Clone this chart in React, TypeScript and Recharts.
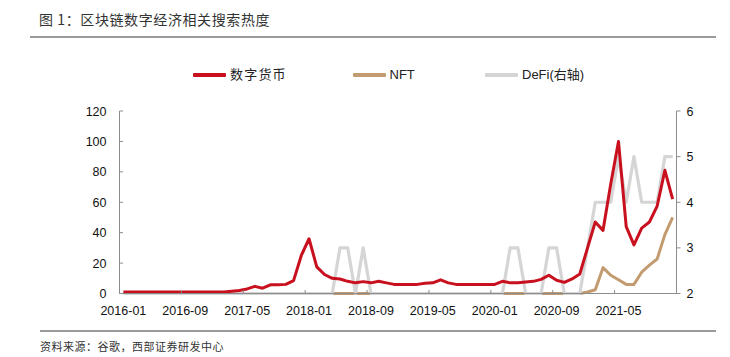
import React from "react";
import { LineChart, Line, XAxis, YAxis } from "recharts";

const months = [
  "2016-01","2016-02","2016-03","2016-04","2016-05","2016-06","2016-07","2016-08","2016-09","2016-10","2016-11","2016-12",
  "2017-01","2017-02","2017-03","2017-04","2017-05","2017-06","2017-07","2017-08","2017-09","2017-10","2017-11","2017-12",
  "2018-01","2018-02","2018-03","2018-04","2018-05","2018-06","2018-07","2018-08","2018-09","2018-10","2018-11","2018-12",
  "2019-01","2019-02","2019-03","2019-04","2019-05","2019-06","2019-07","2019-08","2019-09","2019-10","2019-11","2019-12",
  "2020-01","2020-02","2020-03","2020-04","2020-05","2020-06","2020-07","2020-08","2020-09","2020-10","2020-11","2020-12",
  "2021-01","2021-02","2021-03","2021-04","2021-05","2021-06","2021-07","2021-08","2021-09","2021-10","2021-11","2021-12",
];

const crypto = [
  1, 1, 1, 1, 1, 1, 1, 1, 1, 1, 1, 1,
  1, 1, 1.5, 2, 3, 4.7, 3.5, 5.7, 5.8, 6, 8.5, 25,
  36, 17.5, 12.5, 10, 9.5, 8, 7, 7.8, 7, 8, 7, 6,
  6, 6, 6, 6.8, 7, 9, 7, 6, 6, 6, 6, 6,
  6, 8, 7, 7, 7.5, 8, 9.3, 12, 8.7, 7.3, 9.6, 12.8,
  30, 47, 41.5, 72, 100, 44, 32, 43, 47, 57.5, 81, 62,
];

const nft = [
  null, null, null, null, null, null, null, null, null, null, null, null,
  null, null, null, null, null, null, null, null, null, null, null, null,
  null, null, null, 0, 0, 0, 0, 0, 0, 0, 0, 0,
  0, 0, 0, 0, 0, 0, 0, 0, 0, 0, 0, 0,
  0, 0, 0, 0, 0, 0, 0, 0, 0, 0, 0, 0,
  1, 2.5, 17, 12, 9, 6, 6, 14, 18.7, 22.7, 38.7, 50,
];

const defi = [
  2, 2, 2, 2, 2, 2, 2, 2, 2, 2, 2, 2,
  2, 2, 2, 2, 2, 2, 2, 2, 2, 2, 2, 2,
  2, 2, 2, 2, 3, 3, 2, 3, 2, 2, 2, 2,
  2, 2, 2, 2, 2, 2, 2, 2, 2, 2, 2, 2,
  2, 2, 3, 3, 2, 2, 2, 3, 3, 2, 2, 2,
  3, 4, 4, 4, 5, 4, 5, 4, 4, 4, 5, 5,
];

const leftTicks = [0, 20, 40, 60, 80, 100, 120];
const rightTicks = [2, 3, 4, 5, 6];

const title = "图 1：区块链数字经济相关搜索热度";
const source = "资料来源：谷歌，西部证券研发中心";
const names = { crypto: "数字货币", nft: "NFT", defi: "DeFi(右轴)" };

const RED = "#C8101E";
const TAN = "#C29C70";
const GRAY = "#D5D5D5";
const AXIS = "#8c8c8c";
const FONT = "'Liberation Sans', Arial, 'Noto Sans CJK SC', sans-serif";
const HALF = 3.87;

const data = months.map((m, i) => ({ m, crypto: crypto[i], nft: nft[i], defi: defi[i] }));

const XTick = (props: any) => {
  const { x, y, payload } = props;
  return (
    <g>
      <line x1={x - HALF} x2={x - HALF} y1={y} y2={y - 3.5} stroke={AXIS} strokeWidth={1} />
      <text x={x} y={y + 21} textAnchor="middle" fontSize={12.5} fontFamily={FONT} fill="#111">
        {payload.value}
      </text>
    </g>
  );
};

const LTick = (props: any) => {
  const { x, y, payload } = props;
  return (
    <g>
      <line x1={x + 13} x2={x + 16.5} y1={y} y2={y} stroke={AXIS} strokeWidth={1} />
      <text x={x} y={y} dy="0.36em" textAnchor="end" fontSize={12.5} fontFamily={FONT} fill="#111">
        {payload.value}
      </text>
    </g>
  );
};

const RTick = (props: any) => {
  const { x, y, payload } = props;
  return (
    <text x={x} y={y} dy="0.36em" textAnchor="start" fontSize={12.5} fontFamily={FONT} fill="#111">
      {payload.value}
    </text>
  );
};

const legendItems = [
  { color: RED, label: names.crypto, left: 193, spacing: 1.2 },
  { color: TAN, label: names.nft, left: 352.5, spacing: 0 },
  { color: GRAY, label: names.defi, left: 485, spacing: 0 },
];

export default function App() {
  return (
    <div style={{ position: "absolute", left: 0, top: 0, width: 730, height: 357, background: "#fff" }}>
      <div
        style={{
          position: "absolute", left: 39, top: 10, fontSize: 14, lineHeight: "18px",
          fontFamily: "'Noto Sans CJK SC', sans-serif", color: "#333", letterSpacing: 0.6, whiteSpace: "nowrap",
        }}
      >
        {title}
      </div>
      <div style={{ position: "absolute", left: 30, top: 36, width: 686, height: 2, background: "#9a9a9a" }} />

      {legendItems.map((it) => (
        <div key={it.label} style={{ position: "absolute", left: it.left, top: 66, height: 18, display: "flex", alignItems: "center" }}>
          <div style={{ width: 33, height: 3.5, background: it.color, borderRadius: 1 }} />
          <div style={{ marginLeft: 4, fontSize: 13, fontFamily: FONT, color: "#222", whiteSpace: "nowrap", lineHeight: "18px", letterSpacing: it.spacing }}>
            {it.label}
          </div>
        </div>
      ))}

      <div style={{ position: "absolute", left: 0, top: 0 }}>
        <LineChart width={730} height={357} data={data} margin={{ top: 111, right: 0, bottom: 33.5, left: 0 }}>
          <XAxis
            dataKey="m"
            interval={7}
            tickSize={0}
            tickMargin={0}
            tickLine={false}
            axisLine={{ stroke: AXIS }}
            tick={XTick}
            padding={{ left: HALF, right: HALF }}
            height={30}
          />
          <YAxis
            yAxisId="left"
            domain={[0, 120]}
            ticks={leftTicks}
            width={119.5}
            tickSize={0}
            tickMargin={13}
            tickLine={false}
            axisLine={{ stroke: AXIS }}
            tick={LTick}
            interval={0}
          />
          <YAxis
            yAxisId="right"
            orientation="right"
            domain={[2, 6]}
            ticks={rightTicks}
            width={53.5}
            tickSize={4}
            tickMargin={6}
            tickLine={{ stroke: AXIS }}
            axisLine={{ stroke: AXIS }}
            tick={RTick}
            interval={0}
          />
          <Line yAxisId="left" dataKey="nft" stroke={TAN} strokeWidth={3} dot={false} isAnimationActive={false} strokeLinejoin="round" />
          <Line yAxisId="right" dataKey="defi" stroke={GRAY} strokeWidth={3.2} dot={false} isAnimationActive={false} strokeLinejoin="round" />
          <Line yAxisId="left" dataKey="crypto" stroke={RED} strokeWidth={3} dot={false} isAnimationActive={false} strokeLinejoin="round" />
        </LineChart>
      </div>

      <div style={{ position: "absolute", left: 40, top: 330, width: 676, height: 1.5, background: "#9a9a9a" }} />
      <div
        style={{
          position: "absolute", left: 40, top: 338, fontSize: 11, lineHeight: "16px",
          fontFamily: "'Noto Sans CJK SC', sans-serif", color: "#333", whiteSpace: "nowrap", letterSpacing: 0.5,
        }}
      >
        {source}
      </div>
    </div>
  );
}
